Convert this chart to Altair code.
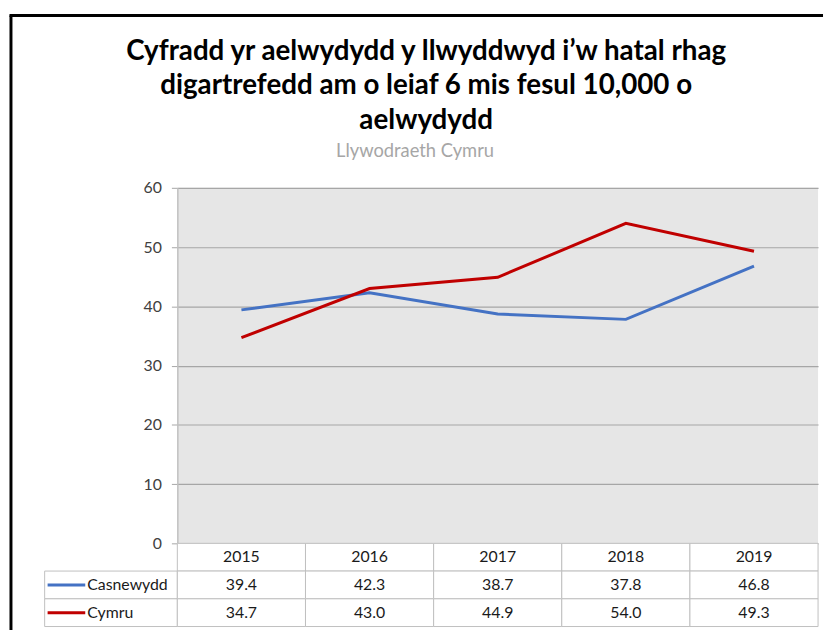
import altair as alt
import pandas as pd

years = ["2015", "2016", "2017", "2018", "2019"]
casnewydd = [39.4, 42.3, 38.7, 37.8, 46.8]
cymru = [34.7, 43.0, 44.9, 54.0, 49.3]
series = ["Casnewydd", "Cymru"]
colors = ["#4472C4", "#C00000"]
y_ticks = [0, 10, 20, 30, 40, 50, 60]
title_lines = [
    "Cyfradd yr aelwydydd y llwyddwyd i\u2019w hatal rhag",
    "digartrefedd am o leiaf 6 mis fesul 10,000 o",
    "aelwydydd",
]
subtitle = "Llywodraeth Cymru"

FONT = "Lato"
rows = ["hdr"] + series

long = pd.DataFrame({
    "year": years * 2,
    "series": [series[0]] * len(years) + [series[1]] * len(years),
    "value": casnewydd + cymru,
})
cells = pd.DataFrame({
    "row": ["hdr"] * len(years) + [series[0]] * len(years) + [series[1]] * len(years),
    "year": years * 3,
    "label": years + [f"{v:.1f}" for v in casnewydd] + [f"{v:.1f}" for v in cymru],
})
leg_df = pd.DataFrame({"row": series, "series": series})

color_scale = alt.Scale(domain=series, range=colors)
no_view = alt.ViewBackground(strokeOpacity=0, strokeWidth=0)

line = alt.Chart(long).mark_line(strokeWidth=3).encode(
    x=alt.X("year:N", scale=alt.Scale(type="point", domain=years, padding=0.5), axis=None),
    y=alt.Y("value:Q", scale=alt.Scale(domain=[0, 60], nice=False, zero=True),
            axis=alt.Axis(values=y_ticks, title=None, labelFont=FONT, labelFontSize=16,
                          labelColor="#404040", labelPadding=10, tickSize=6, tickColor="#a6a6a6",
                          domainColor="#c0c0c0", domainWidth=1.5, gridColor="#a6a6a6",
                          gridWidth=1.2, grid=True)),
    color=alt.Color("series:N", scale=color_scale, legend=None),
).properties(
    width=647, height=359,
    view=alt.ViewBackground(fill="#e6e6e6", strokeOpacity=0, strokeWidth=0),
    title=alt.TitleParams(text=subtitle, anchor="start", align="center", dx=240, frame="group",
                          font=FONT, fontSize=18.5, fontWeight="normal", color="#a6a6a6",
                          offset=20),
)

xband = alt.X("year:N", scale=alt.Scale(domain=years, paddingInner=0, paddingOuter=0), axis=None)
yband = alt.Y("row:N", scale=alt.Scale(domain=rows, paddingInner=0, paddingOuter=0), axis=None)

tbl_rect = alt.Chart(cells).mark_rect(fill="white", stroke="#bfbfbf", strokeWidth=1).encode(x=xband, y=yband)
tbl_text = alt.Chart(cells).mark_text(font=FONT, fontSize=16, color="#1a1a1a").encode(
    x=xband, y=yband, text="label:N")
table = alt.layer(tbl_rect, tbl_text).properties(width=647, height=84, view=no_view)

leg_rect = alt.Chart(leg_df).mark_rect(fill="white", stroke="#bfbfbf", strokeWidth=1).encode(
    x=alt.value(0), x2=alt.value(134), y=yband)
leg_swatch = alt.Chart(leg_df).mark_rule(strokeWidth=3).encode(
    x=alt.value(3), x2=alt.value(41), y=yband,
    color=alt.Color("series:N", scale=color_scale, legend=None))
leg_text = alt.Chart(leg_df).mark_text(font=FONT, fontSize=16, color="#1a1a1a", align="left").encode(
    x=alt.value(43), y=yband, text="series:N")
legend = alt.layer(leg_rect, leg_swatch, leg_text).properties(width=134, height=84, view=no_view)

frame_df = pd.DataFrame({"k": [0]})
frame_left = alt.Chart(frame_df).mark_rule(color="black", strokeWidth=3).encode(
    x=alt.value(-34), y=alt.value(-174), y2=alt.value(450))
frame_top = alt.Chart(frame_df).mark_rule(color="black", strokeWidth=3).encode(
    x=alt.value(-35.5), x2=alt.value(786), y=alt.value(-174))
corner = alt.layer(frame_left, frame_top).properties(width=134, height=359, view=no_view)

chart = alt.concat(
    corner, line, legend, table, columns=2, spacing=0, bounds="flush"
).properties(
    title=alt.TitleParams(
        text=title_lines, anchor="middle", frame="bounds", dx=10,
        font=FONT, fontSize=28, fontWeight="bold", color="#000000", lineHeight=35,
        offset=-122,
    ),
    padding={"left": 0, "top": 2.5, "right": 0, "bottom": 0},
).configure_view(strokeOpacity=0, strokeWidth=0).configure(font=FONT)

chart.save("out.html", embed_options={"renderer": "svg", "actions": False})
